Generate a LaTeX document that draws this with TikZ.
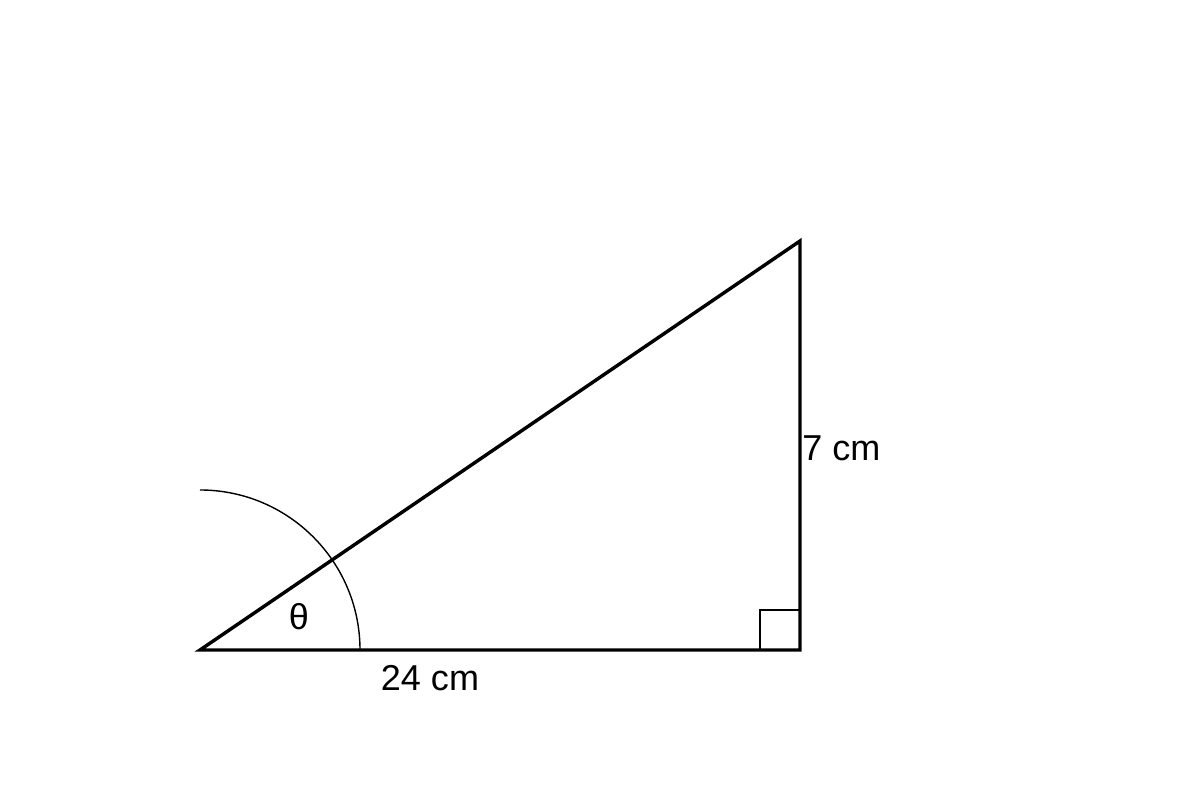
\documentclass[tikz,border=0pt]{standalone}
\usepackage{fontspec}
\setmainfont{Liberation Sans}
\usepackage{tikz}
\tikzset{
    every node/.style={inner sep=0pt, font=\fontsize{20.5}{24}\selectfont}
}
\tikzset{
    side/.style={line width=1.95pt, line join=miter}
}
\tikzset{
    mark angle/.style={line width=0.8pt}
}

\begin{document}
\begin{tikzpicture}[x=0.02cm, y=0.02cm]
	\useasboundingbox (0,0) rectangle (1200,800);
	\coordinate (A) at (200,150);
	\coordinate (B) at (800,150);
	\coordinate (C) at (800,559);
	\coordinate (R1) at (760,150);
	\coordinate (R2) at (760,190);
	\coordinate (R3) at (800,190);

	\node (theta) at (299,183) {θ};
	\node (base) at (430,122) {24 cm};
	\node (height) [anchor=west] at (802,352) {7 cm};

	\draw [side] (A) -- (B) -- (C) -- cycle;
	\draw [mark angle, line width=1.1pt] (R1) -- (R2) -- (R3);
	\draw [mark angle] (360,150) arc[start angle=0, end angle=90, radius=160];
\end{tikzpicture}
\end{document}
